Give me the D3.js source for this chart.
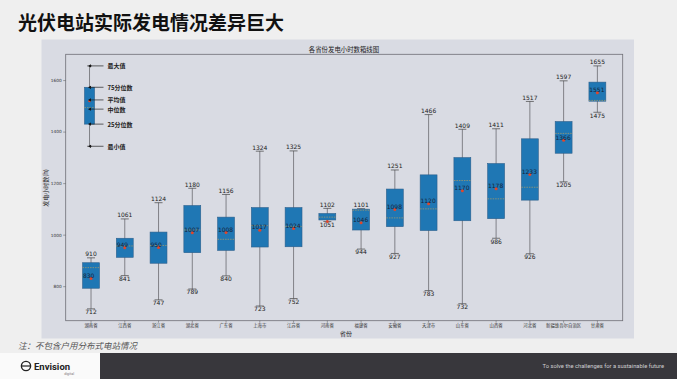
<!DOCTYPE html>
<html>
<head>
<meta charset="utf-8">
<script src="https://cdn.jsdelivr.net/npm/d3@7"></script>
<style>
  body { margin: 0; background: #efefef; }
  svg { display: block; }
</style>
</head>
<body>
<script>
// box plot data per province
var provinces = ["湖南省", "江西省", "浙江省", "湖北省", "广东省", "上海市", "江苏省", "河南省",
  "福建省", "安徽省", "天津市", "山东省", "山西省", "河北省", "新疆维吾尔自治区", "甘肃省"];
var whiskerLow  = [712, 841, 747, 789, 840, 723, 752, 1051, 944, 927, 783, 732, 986, 926, 1205, 1475];
var q1          = [792, 912, 889, 930, 939, 952, 953, 1057, 1018, 1031, 1016, 1054, 1062, 1134, 1316, 1518];
var median      = [872, 956, 958, 1018, 982, 1035, 1032, 1068, 1095, 1065, 1100, 1210, 1139, 1184, 1393, 1521];
var mean        = [830, 949, 950, 1007, 1008, 1017, 1024, 1051, 1046, 1098, 1120, 1170, 1178, 1233, 1366, 1551];
var q3          = [891, 986, 1010, 1113, 1068, 1105, 1105, 1082, 1099, 1177, 1232, 1299, 1276, 1372, 1439, 1592];
var whiskerHigh = [910, 1061, 1124, 1180, 1156, 1324, 1325, 1102, 1101, 1251, 1466, 1409, 1411, 1517, 1597, 1655];
var yTicks = [800, 1000, 1200, 1400, 1600];

// legend example box (min, q1, median, mean, q3, max)
var legendStats = {min: 1343, q1: 1429, median: 1493, mean: 1519, q3: 1572, max: 1655};
var legendNotes = [
  {key: "max", text: "最大值", dy: 0},
  {key: "q3", text: "75分位数", dy: 0},
  {key: "mean", text: "平均值", dy: -1},
  {key: "median", text: "中位数", dy: 1.5},
  {key: "q1", text: "25分位数", dy: 0},
  {key: "min", text: "最小值", dy: 0}
];

var W = 677, H = 379;
var CJK = "'Noto Sans CJK SC', sans-serif";
var NUMF = "'DejaVu Sans', sans-serif";

var svg = d3.select("body").append("svg").attr("width", W).attr("height", H);

// page title
svg.append("text").attr("x", 18).attr("y", 30)
  .attr("font-family", CJK).attr("font-weight", "bold").attr("font-size", 19)
  .attr("fill", "#111").text("光伏电站实际发电情况差异巨大");

// grey chart panel
svg.append("rect").attr("x", 41.5).attr("y", 39.5).attr("width", 592.5).attr("height", 299)
  .attr("fill", "#d9dbe3");

var frame = {left: 65.7, right: 622.7, top: 54.3, bottom: 320.7};

svg.append("text").attr("x", 344).attr("y", 51.5).attr("text-anchor", "middle")
  .attr("font-family", CJK).attr("font-size", 6.4).attr("fill", "#222")
  .text("各省份发电小时数箱线图");

var x = d3.scaleBand().domain(provinces).range([frame.left, frame.right]).padding(0.5);
var y = d3.scaleLinear().domain([666, 1700]).range([frame.bottom, frame.top]);

svg.append("rect").attr("x", frame.left).attr("y", frame.top)
  .attr("width", frame.right - frame.left).attr("height", frame.bottom - frame.top)
  .attr("fill", "none").attr("stroke", "#6e6e76").attr("stroke-width", 0.8);

// axes
var yAxis = svg.append("g").attr("transform", "translate(" + frame.left + ",0)")
  .call(d3.axisLeft(y).tickValues(yTicks).tickFormat(d3.format("d")).tickSize(2.5).tickPadding(1.5));
var xAxis = svg.append("g").attr("transform", "translate(0," + frame.bottom + ")")
  .call(d3.axisBottom(x).tickSize(2).tickPadding(1.5));
[yAxis, xAxis].forEach(function(a) {
  a.select(".domain").remove();
  a.selectAll("line").attr("stroke", "#555").attr("stroke-width", 0.5);
});
yAxis.selectAll("text").attr("font-family", NUMF).attr("font-size", 4.3).attr("fill", "#333");
xAxis.selectAll("text").attr("font-family", CJK).attr("font-size", 4.4).attr("fill", "#333");

svg.append("text").attr("x", 346).attr("y", 335.5).attr("text-anchor", "middle")
  .attr("font-family", CJK).attr("font-size", 6).attr("fill", "#222").text("省份");

svg.append("text").attr("transform", "translate(47.5,188) rotate(-90)")
  .attr("text-anchor", "middle").attr("font-family", CJK).attr("font-size", 6)
  .attr("fill", "#222").text("发电小时数(h)");

// boxes
var data = provinces.map(function(p, i) {
  return {name: p, lo: whiskerLow[i], q1: q1[i], med: median[i], mean: mean[i], q3: q3[i], hi: whiskerHigh[i]};
});

var bw = x.bandwidth();
var g = svg.append("g").selectAll("g").data(data).enter().append("g");

function cx(d) { return x(d.name) + bw / 2; }

g.append("line").attr("x1", cx).attr("x2", cx)
  .attr("y1", function(d) { return y(d.hi); }).attr("y2", function(d) { return y(d.lo); })
  .attr("stroke", "#5a5a60").attr("stroke-width", 0.7);
g.selectAll("line.cap").data(function(d) { return [[d, d.hi], [d, d.lo]]; }).enter()
  .append("line").attr("class", "cap")
  .attr("x1", function(e) { return cx(e[0]) - 4; }).attr("x2", function(e) { return cx(e[0]) + 4; })
  .attr("y1", function(e) { return y(e[1]); }).attr("y2", function(e) { return y(e[1]); })
  .attr("stroke", "#444").attr("stroke-width", 0.7);
g.append("rect")
  .attr("x", function(d) { return x(d.name); }).attr("width", bw)
  .attr("y", function(d) { return y(d.q3); })
  .attr("height", function(d) { return y(d.q1) - y(d.q3); })
  .attr("fill", "#1f77b4").attr("stroke", "#2c5f8c").attr("stroke-width", 0.6);
g.append("line")
  .attr("x1", function(d) { return x(d.name); }).attr("x2", function(d) { return x(d.name) + bw; })
  .attr("y1", function(d) { return y(d.med); }).attr("y2", function(d) { return y(d.med); })
  .attr("stroke", "#c9a558").attr("stroke-width", 0.6).attr("stroke-dasharray", "1.5,1");
g.append("circle").attr("cx", cx).attr("cy", function(d) { return y(d.mean); })
  .attr("r", 1.5).attr("fill", "#e0462a");

// value labels
g.append("text").attr("x", cx).attr("y", function(d) { return y(d.hi) - 1.5; })
  .attr("text-anchor", "middle").attr("font-family", NUMF).attr("font-size", 6)
  .attr("fill", "#222").text(function(d) { return d.hi; });
g.append("text").attr("x", cx).attr("y", function(d) { return y(d.lo) + 0.5; })
  .attr("dominant-baseline", "hanging")
  .attr("text-anchor", "middle").attr("font-family", NUMF).attr("font-size", 6)
  .attr("fill", "#222").text(function(d) { return d.lo; });
g.filter(function(d) { return d.mean > d.q1; })
  .append("text").attr("x", function(d) { return x(d.name) + 0.3; })
  .attr("y", function(d) { return y(d.mean) - 0.8; })
  .attr("font-family", NUMF).attr("font-size", 6)
  .attr("fill", "#14233a").text(function(d) { return d.mean; });

// legend example box
var lx = x(provinces[0]) + bw / 2 - 1.5, lw = 10;
var lg = svg.append("g");
lg.append("line").attr("x1", lx).attr("x2", lx)
  .attr("y1", y(legendStats.max)).attr("y2", y(legendStats.min))
  .attr("stroke", "#5a5a60").attr("stroke-width", 0.7);
[legendStats.max, legendStats.min].forEach(function(v) {
  lg.append("line").attr("x1", lx - 2.5).attr("x2", lx + 2.5).attr("y1", y(v)).attr("y2", y(v))
    .attr("stroke", "#444").attr("stroke-width", 0.7);
});
lg.append("rect").attr("x", lx - lw / 2).attr("width", lw)
  .attr("y", y(legendStats.q3)).attr("height", y(legendStats.q1) - y(legendStats.q3))
  .attr("fill", "#1f77b4").attr("stroke", "#2c5f8c").attr("stroke-width", 0.6);
lg.append("line").attr("x1", lx - lw / 2).attr("x2", lx + lw / 2)
  .attr("y1", y(legendStats.median)).attr("y2", y(legendStats.median))
  .attr("stroke", "#c9a558").attr("stroke-width", 0.6).attr("stroke-dasharray", "1.5,1");
lg.append("circle").attr("cx", lx).attr("cy", y(legendStats.mean)).attr("r", 1.3).attr("fill", "#e0462a");

legendNotes.forEach(function(n) {
  var yy = y(legendStats[n.key]) + n.dy;
  lg.append("path").attr("d", "M" + 88 + "," + yy + "l3,-1.6v3.2z").attr("fill", "#111");
  lg.append("line").attr("x1", 90).attr("x2", 103.5).attr("y1", yy).attr("y2", yy)
    .attr("stroke", "#222").attr("stroke-width", 0.7);
  lg.append("text").attr("x", 107.5).attr("y", yy).attr("dominant-baseline", "central")
    .attr("font-family", CJK).attr("font-weight", "bold").attr("font-size", 6)
    .attr("fill", "#222").text(n.text);
});

// footnote
svg.append("text").attr("x", 18).attr("y", 348.5)
  .attr("font-family", CJK).attr("font-style", "italic").attr("font-size", 8.5)
  .attr("fill", "#555")
  .text("注：不包含户用分布式电站情况");

// footer bar
svg.append("rect").attr("x", 0).attr("y", 353).attr("width", 100).attr("height", 26).attr("fill", "#fafafa");
svg.append("rect").attr("x", 100).attr("y", 353).attr("width", 577).attr("height", 26).attr("fill", "#38373c");
svg.append("text").attr("x", 664).attr("y", 368).attr("text-anchor", "end")
  .attr("font-family", "Roboto, sans-serif").attr("font-size", 5.8).attr("fill", "#cfcfd2")
  .text("To solve the challenges for a sustainable future");

// logo
var logo = svg.append("g");
logo.append("circle").attr("cx", 26).attr("cy", 366).attr("r", 4.6)
  .attr("fill", "none").attr("stroke", "#222").attr("stroke-width", 1.4);
logo.append("line").attr("x1", 21.5).attr("x2", 30.5).attr("y1", 366).attr("y2", 366)
  .attr("stroke", "#222").attr("stroke-width", 1.2);
logo.append("text").attr("x", 34).attr("y", 369.5)
  .attr("font-family", "Roboto, sans-serif").attr("font-weight", "bold").attr("font-size", 9.5)
  .attr("fill", "#222").text("Envision");
logo.append("text").attr("x", 74).attr("y", 375).attr("text-anchor", "end")
  .attr("font-family", "Roboto, sans-serif").attr("font-size", 3.6)
  .attr("fill", "#777").text("digital");
</script>
</body>
</html>
